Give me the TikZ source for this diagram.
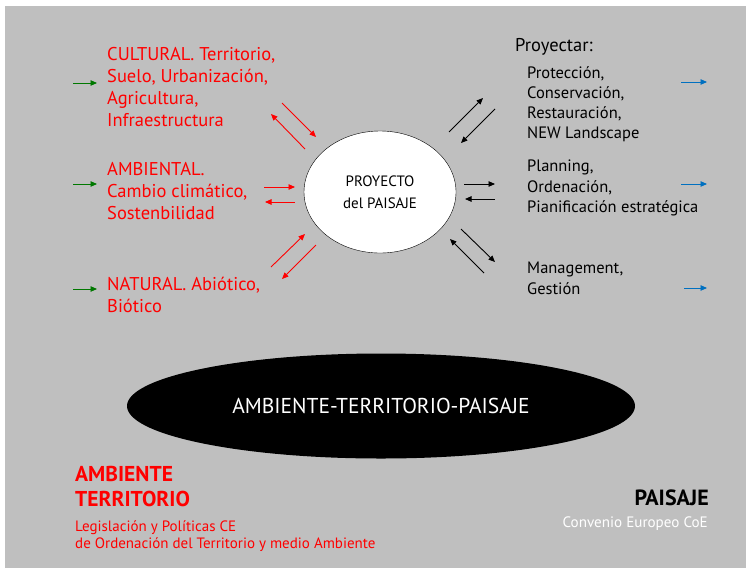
\documentclass[tikz,border=0pt]{standalone}
\usepackage{fontspec}
\setmainfont{PT Sans}
\usetikzlibrary{arrows.meta,shapes.geometric,positioning}
\usepackage{xcolor}
\definecolor{bggray}{RGB}{191,191,191}
\definecolor{redtext}{RGB}{255,0,0}
\definecolor{leafgreen}{RGB}{0,120,0}
\definecolor{skyblue}{RGB}{0,112,192}

\begin{document}
\begin{tikzpicture}[x=1pt,y=-1pt,
    txt/.style={anchor=north west,align=left,inner sep=0pt},
    redtxt/.style={txt,text=redtext,font=\fontsize{18.5}{22}\selectfont},
    blacktxt/.style={txt,font=\fontsize{16.5}{20.3}\selectfont},
    arr/.style={line width=0.9pt,-{Triangle[length=6.5pt,width=5.5pt]}}]
	% Frame and background.
	\useasboundingbox (0,0) rectangle (746,568);
	\fill [bggray] (5,6) rectangle (746,568);

	% Left column.
	\node (cult) at (107,47) [redtxt] {CULTURAL. Territorio,\\Suelo, Urbanización,\\Agricultura,\\Infraestructura};
	\node (amb) at (107,162) [redtxt] {AMBIENTAL.\\Cambio climático,\\Sostenbilidad};
	\node (nat) at (107,277) [redtxt] {NATURAL. Abiótico,\\Biótico};
	\foreach \y in {83,184,289}
		\draw [arr, leafgreen] (73,\y) -- (97,\y);

	% Centre.
	\node (proy) at (380,192) [ellipse, draw=black, thin, fill=white, minimum width=152, minimum height=122, align=center, font=\fontsize{15}{21.5}\selectfont] {PROYECTO\\del PAISAJE};
	\foreach \xa/\ya/\xb/\yb in {282/103/316/137, 305/149/271/114, 264/187/295/187, 295/202/265/202, 271/267/305/234, 316/245/282/279}
		\draw [arr, redtext] (\xa,\ya) -- (\xb,\yb);
	\foreach \xa/\ya/\xb/\yb in {449/132/483/98, 495/109/461/143, 464/184/495/184, 495/199/465/199, 461/229/495/262, 484/273/450/239}
		\draw [arr, black] (\xa,\ya) -- (\xb,\yb);

	% Right column.
	\node (proyectar) at (515,38) [txt, font=\fontsize{18.5}{22}\selectfont] {Proyectar:};
	\node (prot) at (527,66) [blacktxt] {Protección,\\Conservación,\\Restauración,\\NEW Landscape};
	\node (plan) at (527,160) [blacktxt] {Planning,\\Ordenación,\\Pianificación estratégica};
	\node (mng) at (527,262) [blacktxt] {Management,\\Gestión};
	\foreach \y/\xa in {82/681,184/681,288/684}
		\draw [arr, skyblue] (\xa,\y) -- (707,\y);

	% Base.
	\node (base) at (381,406) [ellipse, fill=black, minimum width=508, minimum height=105, text=white, font=\fontsize{21.5}{24}\selectfont] {AMBIENTE-TERRITORIO-PAISAJE};

	\node (ambter) at (75,466) [txt, text=redtext, font=\bfseries\fontsize{21.5}{25.5}\selectfont] {AMBIENTE\\TERRITORIO};
	\node (leg) at (75,520) [txt, text=redtext, font=\fontsize{15}{17.8}\selectfont] {Legislación y Políticas CE\\de Ordenación del Territorio y medio Ambiente};
	\node (pai) at (709,505) [anchor=base east, inner sep=0pt, font=\bfseries\fontsize{22}{24}\selectfont] {PAISAJE};
	\node (conv) at (708,527) [anchor=base east, inner sep=0pt, text=white, font=\fontsize{15.1}{17}\selectfont] {Convenio Europeo CoE};
\end{tikzpicture}
\end{document}
